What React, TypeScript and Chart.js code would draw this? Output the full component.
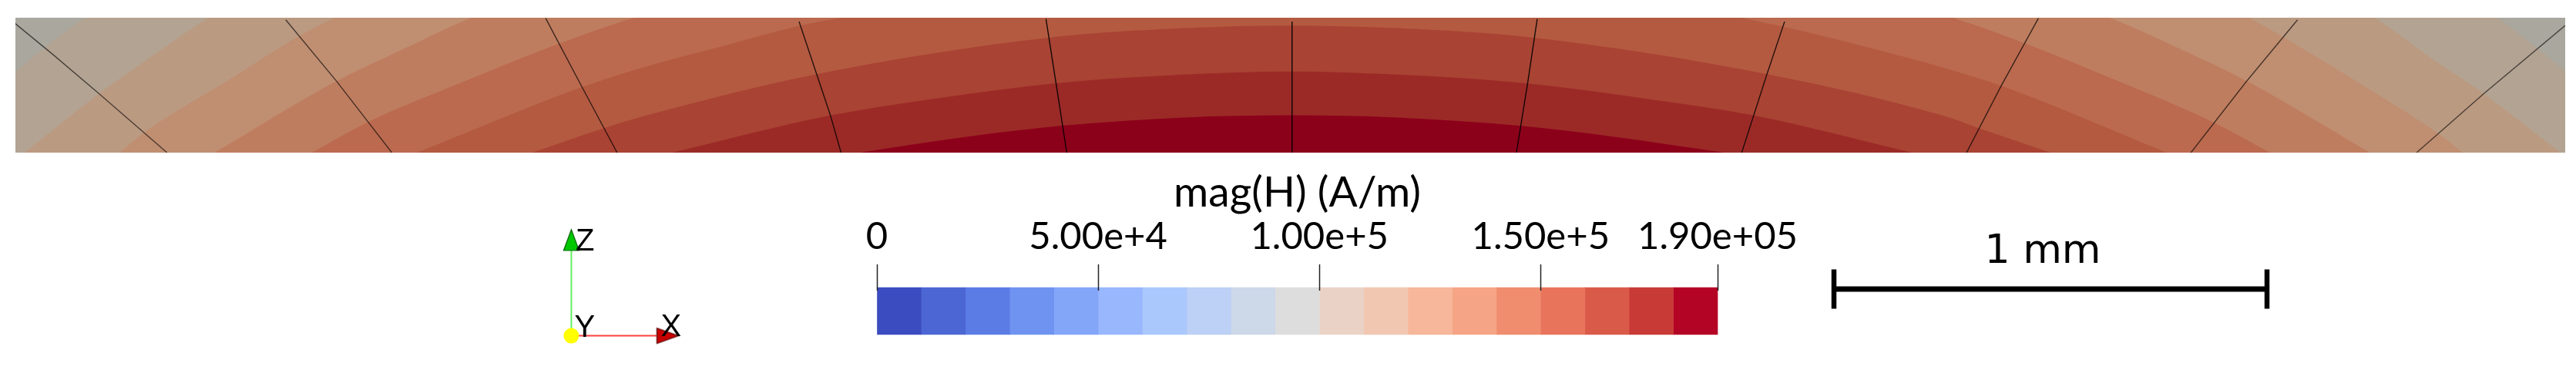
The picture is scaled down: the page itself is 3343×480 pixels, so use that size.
import React, { useEffect, useRef } from "react";
import { Chart, registerables } from "chart.js";

Chart.register(...registerables);

// ---- magnetic field section: contour boundaries (x, z in micrometres from centre / bottom)
// The arcs run past the top of the section, so their crowns (z > 311) fall outside the plot.
const contour1X = [-2943, -2874, -2781, -1400, 0, 1400, 2786, 2879, 2943];
const contour1Y = [186, 243, 312, 1096, 1363, 1096, 312, 240, 189];
const contour2X = [-2922, -2750, -2645, -2495, -1200, 0, 1200, 2501, 2645, 2755, 2932];
const contour2Y = [0, 136, 210, 312, 958, 1152, 958, 312, 210, 136, 0];
const contour3X = [-2702, -2645, -2450, -2288, -2202, -1100, 0, 1100, 2210, 2296, 2473, 2650, 2707];
const contour3Y = [0, 47, 168, 269, 312, 775, 929, 775, 312, 264, 157, 44, 0];
const contour4X = [-2483, -2202, -2045, -1888, -1000, 0, 1000, 1889, 2052, 2210, 2492];
const contour4Y = [0, 165, 240, 312, 619, 739, 619, 312, 240, 164, 0];
const contour5X = [-2259, -2126, -1912, -1697, -1511, -800, 0, 800, 1526, 1698, 1918, 2133, 2262];
const contour5Y = [0, 72, 162, 248, 312, 494, 565, 494, 312, 251, 162, 69, 0];
const contour6X = [-2016, -1635, -1485, -1313, -1132, -1029, -500, 0, 500, 1034, 1139, 1325, 1504, 1641, 2023];
const contour6Y = [0, 151, 199, 245, 293, 312, 396, 422, 396, 312, 290, 245, 197, 154, 0];
const contour7X = [-1750, -1583, -1485, -1094, -560, -246, 0, 246, 563, 1101, 1504, 1588, 1755];
const contour7Y = [0, 57, 86, 181, 265, 287, 293, 287, 265, 181, 86, 57, 0];
const contour8X = [-1427, -1060, -817, -541, -246, 0, 246, 543, 817, 1068, 1435];
const contour8Y = [0, 86, 125, 160, 180, 187, 180, 160, 125, 86, 0];
const contour9X = [-994, -751, -527, -246, 0, 246, 529, 751, 1001];
const contour9Y = [0, 36, 62, 81, 86, 81, 62, 36, 0];
const contourXs = [contour1X, contour2X, contour3X, contour4X, contour5X, contour6X, contour7X, contour8X, contour9X];
const contourYs = [contour1Y, contour2Y, contour3Y, contour4Y, contour5Y, contour6Y, contour7Y, contour8Y, contour9Y];
const bandColors = ["#a9a79e", "#b3a392", "#bb9a82", "#c08e71", "#bf7d5f", "#bb6a4f", "#b45a41", "#a94333", "#9b2a27", "#8c011a"];

// ---- mesh lines
const meshX = [
  [-2944, -2855, -2750, -2593],
  [-2319, -2202, -2074],
  [-1719, -1635, -1554],
  [-1134, -1062, -1037],
  [-564, -541, -516],
  [4, 4],
  [570, 548, 522],
  [1141, 1101, 1042],
  [1727, 1641, 1561],
  [2325, 2207, 2079],
  [2943, 2755, 2600],
];
const meshY = [
  [298, 225, 136, 0],
  [306, 165, 0],
  [310, 151, 0],
  [302, 87, 0],
  [308, 161, 0],
  [302, 0],
  [308, 161, 0],
  [302, 183, 0],
  [310, 154, 0],
  [306, 164, 0],
  [293, 136, 0],
];
const meshColors = ["#00000099", "#000000a0", "#000000b0", "#000000c8", "#000000e0", "#000000f0", "#000000e0", "#000000c8", "#000000b0", "#000000a0", "#00000099"];

// ---- colour legend
const legendTitle = "mag(H) (A/m)";
const legendTickValues = [0, 50000, 100000, 150000, 190000];
const legendTickLabels = ["0", "5.00e+4", "1.00e+5", "1.50e+5", "1.90e+05"];
const legendBandSize = [10000, 10000, 10000, 10000, 10000, 10000, 10000, 10000, 10000, 10000, 10000, 10000, 10000, 10000, 10000, 10000, 10000, 10000, 10000];
const legendBandColors = ["#3b4cc0", "#4c66d3", "#5c7ce5", "#6f93f0", "#83a6f9", "#98b7fd", "#aac8fc", "#bdd0f5", "#cdd8e9", "#dddddd", "#ead3c6", "#f2c7b1", "#f6b79b", "#f5a585", "#f08d6f", "#e8745c", "#da5a4a", "#c83a36", "#b40426"];

// ---- scale bar
const scaleBarLabel = "1 mm";
const scaleBarMm = [0, 1];

// ---- orientation triad
const triadLabels = ["X", "Y", "Z"];
const triadLabelX = [0.84, 0.03, 0.04];
const triadLabelY = [0.0, -0.007, 0.805];

const FONT = "Lato";

function cone(w: number, h: number, fill: string, edge: string, pointsRight: boolean) {
  const c = document.createElement("canvas");
  const box = Math.max(w, h) + 4;
  c.width = box;
  c.height = box;
  const g = c.getContext("2d")!;
  g.translate(box / 2, box / 2);
  if (pointsRight) g.rotate(Math.PI / 2);
  g.beginPath();
  g.moveTo(0, -h / 2);
  g.lineTo(w / 2, h / 2);
  g.lineTo(-w / 2, h / 2);
  g.closePath();
  g.fillStyle = fill;
  g.strokeStyle = edge;
  g.lineWidth = 1.2;
  g.fill();
  g.stroke();
  return c;
}

function place(left: number, top: number, width: number, height: number): React.CSSProperties {
  return { position: "absolute", left, top, width, height, display: "block" };
}

export default function App() {
  const fieldRef = useRef<HTMLCanvasElement>(null);
  const legendRef = useRef<HTMLCanvasElement>(null);
  const barRef = useRef<HTMLCanvasElement>(null);
  const triadRef = useRef<HTMLCanvasElement>(null);

  useEffect(() => {
    const hidden = { display: false };
    const base = { responsive: false, animation: false as const, devicePixelRatio: 1 };
    const noPlugins = { legend: hidden, tooltip: { enabled: false }, title: hidden };

    const meshSets = meshX.map((xs, i) => ({
      type: "scatter" as const,
      showLine: true,
      pointRadius: 0,
      borderWidth: 1.4,
      borderColor: meshColors[i],
      fill: false,
      data: xs.map((x, j) => ({ x, y: meshY[i][j] })),
    }));
    const bandSets = contourXs
      .map((xs, i) => ({
        type: "scatter" as const,
        showLine: true,
        pointRadius: 0,
        borderWidth: 0,
        cubicInterpolationMode: "monotone",
        backgroundColor: bandColors[i + 1],
        fill: "start",
        data: xs.map((x, j) => ({ x, y: contourYs[i][j] })),
      }))
      .reverse();
    const baseSet = {
      type: "scatter" as const,
      showLine: true,
      pointRadius: 0,
      borderWidth: 0,
      backgroundColor: bandColors[0],
      fill: "start",
      data: [{ x: -2943, y: 311 }, { x: 2943, y: 311 }],
    };
    const field = new Chart(fieldRef.current!, {
      type: "scatter",
      data: { datasets: [...meshSets, ...bandSets, baseSet] as any },
      options: {
        ...base,
        layout: { padding: 0, autoPadding: false },
        plugins: noPlugins,
        scales: {
          x: { type: "linear", display: false, bounds: "data", min: -2943, max: 2943 },
          y: { type: "linear", display: false, bounds: "data", min: 0, max: 311 },
        },
      } as any,
    });

    const legend = new Chart(legendRef.current!, {
      type: "bar",
      data: {
        labels: ["mag(H)"],
        datasets: legendBandSize.map((v, i) => ({
          data: [v],
          backgroundColor: legendBandColors[i],
          borderWidth: 0,
          barThickness: 61,
          clip: false,
          stack: "bar",
        })),
      },
      options: {
        ...base,
        indexAxis: "y",
        layout: { padding: { left: 138, right: 141, top: 0, bottom: 20 }, autoPadding: false },
        plugins: noPlugins,
        scales: {
          x: {
            type: "linear",
            position: "top",
            stacked: true,
            min: 0,
            max: 190000,
            afterBuildTicks: (s: any) => {
              s.ticks = legendTickValues.map((value) => ({ value }));
            },
            afterFit: (s: any) => {
              s.height = 167;
            },
            grid: { display: true, drawOnChartArea: false, drawTicks: true, tickLength: 34, tickWidth: 1.5, tickColor: "#222222", z: 1 },
            border: { display: false },
            ticks: {
              autoSkip: false,
              maxRotation: 0,
              minRotation: 0,
              padding: 6,
              color: "#000000",
              font: { family: FONT, size: 49 },
              callback: (_v: any, i: number) => legendTickLabels[i],
            },
            title: {
              display: true,
              text: legendTitle,
              color: "#000000",
              font: { family: FONT, size: 55 },
              padding: { top: 7, bottom: 0 },
            },
          },
          y: { type: "category", display: false, stacked: true },
        },
      } as any,
    });

    const bar = new Chart(barRef.current!, {
      type: "scatter",
      data: {
        datasets: [
          {
            showLine: true,
            borderColor: "#000000",
            borderWidth: 7,
            borderCapStyle: "butt",
            clip: false,
            pointStyle: "line",
            pointRotation: 90,
            pointRadius: 25.5,
            pointBorderColor: "#000000",
            pointBorderWidth: 6.5,
            data: scaleBarMm.map((x) => ({ x, y: 0 })),
          },
        ],
      },
      options: {
        ...base,
        layout: { padding: { left: 60, right: 58, top: 0, bottom: 25 }, autoPadding: false },
        plugins: noPlugins,
        scales: {
          x: {
            type: "linear",
            position: "top",
            bounds: "data",
            min: -20 / 562,
            max: 1,
            afterFit: (s: any) => {
              s.height = 75;
            },
            grid: { display: false },
            border: { display: false },
            ticks: { display: false },
            title: {
              display: true,
              text: scaleBarLabel,
              color: "#000000",
              font: { family: "DejaVu Sans", size: 52 },
              padding: { top: 26, bottom: 0 },
            },
          },
          y: { type: "linear", display: false, min: -1, max: 1 },
        },
      } as any,
    });

    const triadText = {
      id: "triadText",
      afterDatasetsDraw(c: any) {
        const g = c.ctx;
        g.save();
        g.font = "40px 'Liberation Sans'";
        g.fillStyle = "#000000";
        g.textBaseline = "alphabetic";
        triadLabels.forEach((t, i) => {
          g.fillText(t, c.scales.x.getPixelForValue(triadLabelX[i]), c.scales.y.getPixelForValue(triadLabelY[i]));
        });
        g.restore();
      },
    };
    const triad = new Chart(triadRef.current!, {
      type: "scatter",
      data: {
        datasets: [
          { pointStyle: cone(20, 27, "#00c800", "#006000", false) as any, data: [{ x: 0, y: 0.9 }], clip: false },
          { pointStyle: cone(20, 28, "#c80000", "#500000", true) as any, data: [{ x: 0.905, y: 0 }], clip: false },
          { pointStyle: "circle", pointRadius: 10, backgroundColor: "#ffff00", borderWidth: 0, pointBorderWidth: 0, data: [{ x: 0, y: 0 }] },
          { showLine: true, borderColor: "#ff4040", borderWidth: 2, pointRadius: 0, data: [{ x: 0, y: 0 }, { x: 0.8, y: 0 }] },
          { showLine: true, borderColor: "#60f060", borderWidth: 2, pointRadius: 0, data: [{ x: 0, y: 0 }, { x: 0, y: 0.8 }] },
        ] as any,
      },
      options: {
        ...base,
        layout: { padding: 0, autoPadding: false },
        plugins: noPlugins,
        scales: {
          x: { type: "linear", display: false, bounds: "data", min: -0.3, max: 1.3 },
          y: { type: "linear", display: false, bounds: "data", min: -0.3, max: 1.2 },
        },
      } as any,
      plugins: [triadText],
    });

    return () => {
      field.destroy();
      legend.destroy();
      bar.destroy();
      triad.destroy();
    };
  }, []);

  return (
    <div style={{ position: "fixed", left: 0, top: 0, width: 3343, height: 480, background: "#ffffff", overflow: "hidden" }}>
      <canvas ref={fieldRef} width={3309} height={175} style={place(20, 23, 3309, 175)} />
      <canvas ref={triadRef} width={221} height={207} style={place(700, 270, 221, 207)} />
      <canvas ref={legendRef} width={1370} height={240} style={place(1000, 210, 1370, 240)} />
      <canvas ref={barRef} width={700} height={160} style={place(2300, 270, 700, 160)} />
    </div>
  );
}
